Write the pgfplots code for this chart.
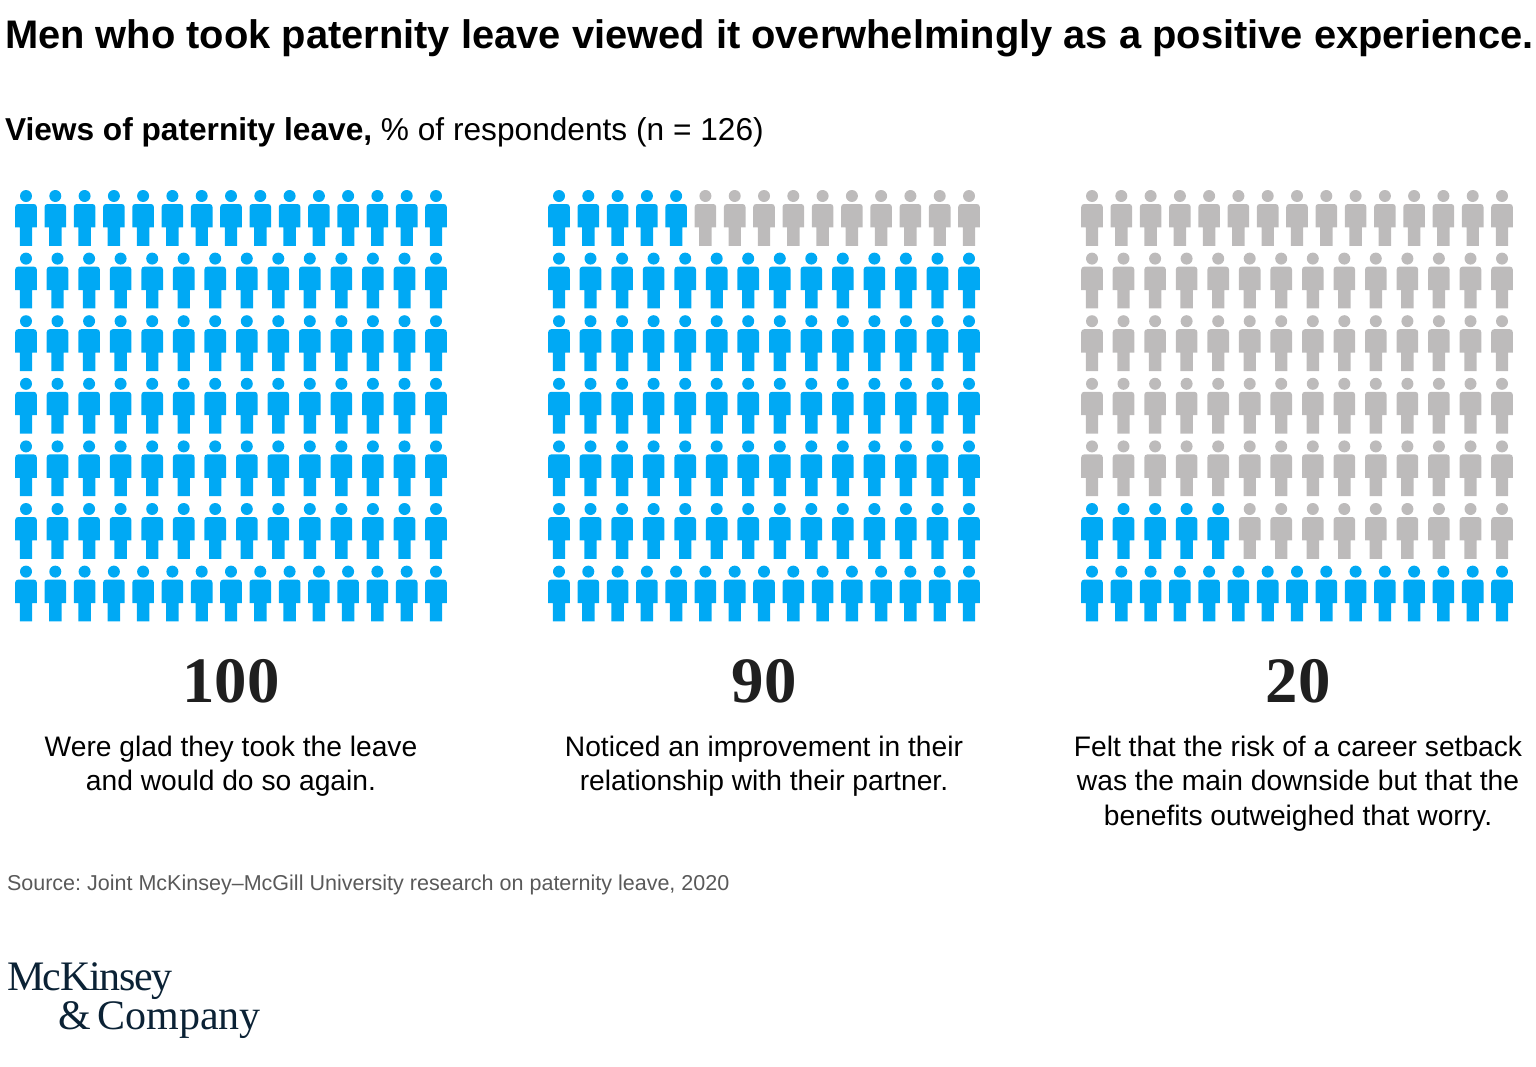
\documentclass[border=0pt]{standalone}
\usepackage{pgfplots}
\usepackage{pgfplotstable}
\usepackage{fontspec}
\pgfplotsset{compat=1.18}
\setmainfont{Liberation Sans}
\newfontfamily\serifnum{Liberation Serif}
\newfontfamily\logotight[LetterSpace=-3.3]{Liberation Serif}
\definecolor{iconblue}{HTML}{00A9F4}
\definecolor{icongray}{HTML}{BDBBBB}
\definecolor{logoblue}{HTML}{0B2235}
\frenchspacing
\pgfdeclareplotmark{person}{%
  \pgfpathcircle{\pgfpoint{0pt}{0pt}}{3pt}%
  \pgfpathmoveto{\pgfpoint{-5.4pt}{-15.7pt}}%
  \pgfpathlineto{\pgfpoint{-5.4pt}{-5.5pt}}%
  \pgfpathcurveto{\pgfpoint{-5.4pt}{-4.6pt}}{\pgfpoint{-4.8pt}{-4pt}}{\pgfpoint{-3.9pt}{-4pt}}%
  \pgfpathlineto{\pgfpoint{3.9pt}{-4pt}}%
  \pgfpathcurveto{\pgfpoint{4.8pt}{-4pt}}{\pgfpoint{5.4pt}{-4.6pt}}{\pgfpoint{5.4pt}{-5.5pt}}%
  \pgfpathlineto{\pgfpoint{5.4pt}{-15.7pt}}%
  \pgfpathlineto{\pgfpoint{3.1pt}{-15.7pt}}%
  \pgfpathlineto{\pgfpoint{3.1pt}{-24.9pt}}%
  \pgfpathlineto{\pgfpoint{-3.1pt}{-24.9pt}}%
  \pgfpathlineto{\pgfpoint{-3.1pt}{-15.7pt}}%
  \pgfpathclose
  \pgfusepathqfill
}
% x y: icon position; a, b, c: 1 = counted in that panel's share, 0 = not
\pgfplotstableread{
x y a b c
26 196 1 1 0
55.3 196 1 1 0
84.6 196 1 1 0
113.9 196 1 1 0
143.1 196 1 1 0
172.4 196 1 0 0
201.7 196 1 0 0
231 196 1 0 0
260.3 196 1 0 0
289.6 196 1 0 0
318.9 196 1 0 0
348.1 196 1 0 0
377.4 196 1 0 0
406.7 196 1 0 0
436 196 1 0 0
26 258.6 1 1 0
57.5 258.6 1 1 0
89.1 258.6 1 1 0
120.6 258.6 1 1 0
152.2 258.6 1 1 0
183.7 258.6 1 1 0
215.2 258.6 1 1 0
246.8 258.6 1 1 0
278.3 258.6 1 1 0
309.8 258.6 1 1 0
341.4 258.6 1 1 0
372.9 258.6 1 1 0
404.5 258.6 1 1 0
436 258.6 1 1 0
26 321.2 1 1 0
57.5 321.2 1 1 0
89.1 321.2 1 1 0
120.6 321.2 1 1 0
152.2 321.2 1 1 0
183.7 321.2 1 1 0
215.2 321.2 1 1 0
246.8 321.2 1 1 0
278.3 321.2 1 1 0
309.8 321.2 1 1 0
341.4 321.2 1 1 0
372.9 321.2 1 1 0
404.5 321.2 1 1 0
436 321.2 1 1 0
26 383.8 1 1 0
57.5 383.8 1 1 0
89.1 383.8 1 1 0
120.6 383.8 1 1 0
152.2 383.8 1 1 0
183.7 383.8 1 1 0
215.2 383.8 1 1 0
246.8 383.8 1 1 0
278.3 383.8 1 1 0
309.8 383.8 1 1 0
341.4 383.8 1 1 0
372.9 383.8 1 1 0
404.5 383.8 1 1 0
436 383.8 1 1 0
26 446.4 1 1 0
57.5 446.4 1 1 0
89.1 446.4 1 1 0
120.6 446.4 1 1 0
152.2 446.4 1 1 0
183.7 446.4 1 1 0
215.2 446.4 1 1 0
246.8 446.4 1 1 0
278.3 446.4 1 1 0
309.8 446.4 1 1 0
341.4 446.4 1 1 0
372.9 446.4 1 1 0
404.5 446.4 1 1 0
436 446.4 1 1 0
26 509 1 1 1
57.5 509 1 1 1
89.1 509 1 1 1
120.6 509 1 1 1
152.2 509 1 1 1
183.7 509 1 1 0
215.2 509 1 1 0
246.8 509 1 1 0
278.3 509 1 1 0
309.8 509 1 1 0
341.4 509 1 1 0
372.9 509 1 1 0
404.5 509 1 1 0
436 509 1 1 0
26 571.6 1 1 1
55.3 571.6 1 1 1
84.6 571.6 1 1 1
113.9 571.6 1 1 1
143.1 571.6 1 1 1
172.4 571.6 1 1 1
201.7 571.6 1 1 1
231 571.6 1 1 1
260.3 571.6 1 1 1
289.6 571.6 1 1 1
318.9 571.6 1 1 1
348.1 571.6 1 1 1
377.4 571.6 1 1 1
406.7 571.6 1 1 1
436 571.6 1 1 1
}\icons
\begin{document}
\begin{tikzpicture}[every node/.append style={inner sep=0pt, outer sep=0pt}]
\useasboundingbox (0,0) rectangle (768pt,533pt);
\begin{axis}[
  anchor=south west, at={(0,0)},
  scale only axis, width=768pt, height=533pt,
  xmin=0, xmax=1536, ymin=0, ymax=1066, y dir=reverse,
  axis lines=none, clip=false, tick=none,
  scatter/classes={
    0={mark=person, icongray},
    1={mark=person, iconblue}},
]
\addplot[scatter, only marks, scatter src=explicit symbolic]
  table[x=x, y=y, meta=a] {\icons};
\addplot[scatter, only marks, scatter src=explicit symbolic]
  table[x expr=\thisrow{x}+533, y=y, meta=b] {\icons};
\addplot[scatter, only marks, scatter src=explicit symbolic]
  table[x expr=\thisrow{x}+1066, y=y, meta=c] {\icons};

\node[anchor=base west] at (axis cs:5,48) {\fontsize{19.93pt}{22pt}\selectfont\bfseries Men who took paternity leave viewed it overwhelmingly as a positive experience.};
\node[anchor=base west] at (axis cs:5,140) {\fontsize{15.83pt}{20pt}\selectfont\textbf{Views of paternity leave,} \% of respondents (n = 126)};

\node[anchor=base] at (axis cs:231,702) {\serifnum\bfseries\fontsize{32.4pt}{34pt}\selectfont\color{black!88}100};
\node[anchor=base] at (axis cs:764,702) {\serifnum\bfseries\fontsize{32.4pt}{34pt}\selectfont\color{black!88}90};
\node[anchor=base] at (axis cs:1298,702) {\serifnum\bfseries\fontsize{32.4pt}{34pt}\selectfont\color{black!88}20};

\foreach \cx/\yy/\txt in {231/756/Were glad they took the leave, 231/790/and would do so again.,
  764/756/Noticed an improvement in their, 764/790/relationship with their partner.,
  1298/756/Felt that the risk of a career setback, 1298/790/was the main downside but that the, 1298/825/benefits outweighed that worry.}{
  \edef\temp{\noexpand\node[anchor=base] at (axis cs:\cx,\yy) {\noexpand\fontsize{14.1pt}{17pt}\noexpand\selectfont \txt};}
  \temp
}
\node[anchor=base west] at (axis cs:7,890) {\fontsize{10.76pt}{13pt}\selectfont\color{black!65}Source: Joint McKinsey--McGill University research on paternity leave, 2020};
\node[anchor=base west] at (axis cs:7,990) {\logotight\fontsize{21pt}{22pt}\selectfont\color{logoblue}McKinsey};
\node[anchor=base west] at (axis cs:58,1029) {\serifnum\fontsize{21pt}{22pt}\selectfont\color{logoblue}\&\,Company};
\end{axis}
\end{tikzpicture}
\end{document}
